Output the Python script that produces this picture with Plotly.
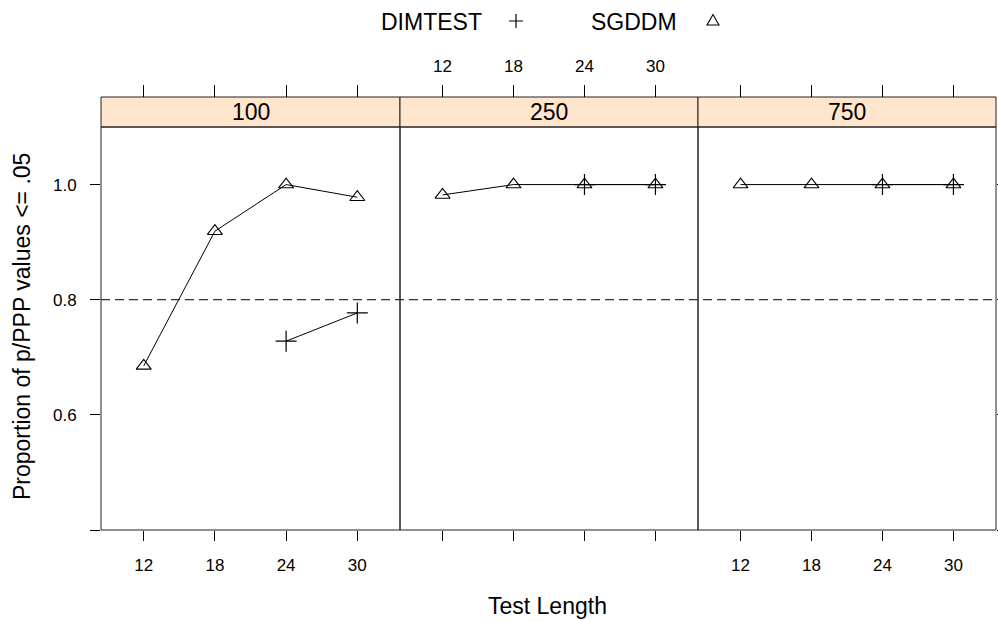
import plotly.graph_objects as go

test_lengths = [12, 18, 24, 30]
panels = ["100", "250", "750"]
sgddm = {
    "100": [0.685, 0.919, 1.0, 0.978],
    "250": [0.982, 1.0, 1.0, 1.0],
    "750": [1.0, 1.0, 1.0, 1.0],
}
dimtest = {
    "100": [None, None, 0.728, 0.777],
    "250": [None, None, 1.0, 1.0],
    "750": [None, None, 1.0, 1.0],
}
y_ticks = [0.4, 0.6, 0.8, 1.0]
y_ticktext = ["", "0.6", "0.8", "1.0"]
ref_line = 0.8

W, H = 998, 621
ML, MR, MT, MB = 101, 2, 97, 91
PW = W - ML - MR
PH = H - MT - MB
STRIP = 30
yd = (PH - STRIP) / PH
edges_px = [101, 400, 698, 996]
doms = [[(edges_px[i] - ML) / PW, (edges_px[i + 1] - ML) / PW] for i in range(3)]
doms[-1][1] = 1.0

FONT = "Liberation Sans, Arial, sans-serif"
xr = [8.4, 33.6]
yr = [0.4, 1.1]

fig = go.Figure()
for i, p in enumerate(panels):
    xa = "x" if i == 0 else f"x{i+1}"
    ya = "y" if i == 0 else f"y{i+1}"
    fig.add_trace(go.Scatter(
        x=test_lengths, y=dimtest[p], mode="lines+markers", xaxis=xa, yaxis=ya,
        line=dict(color="black", width=1), connectgaps=False,
        marker=dict(symbol="cross-thin-open", size=15, color="black",
                    line=dict(color="black", width=1.2)),
        showlegend=False, name="DIMTEST"))
    fig.add_trace(go.Scatter(
        x=test_lengths, y=sgddm[p], mode="lines+markers", xaxis=xa, yaxis=ya,
        line=dict(color="black", width=1),
        marker=dict(symbol="triangle-up-open", size=13, color="black",
                    line=dict(color="black", width=1.1)),
        showlegend=False, name="SGDDM"))

# dummy traces so overlay axes are drawn
for xa, ya in [("x4", "y"), ("x5", "y2"), ("x6", "y3"), ("x3", "y4")]:
    fig.add_trace(go.Scatter(x=[None], y=[None], xaxis=xa, yaxis=ya, showlegend=False, hoverinfo="skip"))

tickfont = dict(family=FONT, size=17, color="black")
common_x = dict(range=xr, tickvals=test_lengths, ticktext=[str(t) for t in test_lengths],
                ticks="outside", ticklen=10, tickcolor="black", tickwidth=1,
                showgrid=False, zeroline=False, showline=False, tickfont=tickfont,
                ticklabelstandoff=10, automargin=False)
layout = dict(
    width=W, height=H, margin=dict(l=ML, r=MR, t=MT, b=MB, autoexpand=False),
    paper_bgcolor="white", plot_bgcolor="white", showlegend=False,
)
layout["xaxis"] = dict(domain=doms[0], anchor="y", **common_x)
layout["xaxis2"] = dict(domain=doms[1], anchor="y2", showticklabels=False, **common_x)
layout["xaxis3"] = dict(domain=doms[2], anchor="y3", **common_x)
top_common = dict(common_x)
top_common["ticklen"] = 12
top_common["ticklabelstandoff"] = 6
layout["xaxis4"] = dict(overlaying="x", side="top", anchor="free", position=1,
                        showticklabels=False, **top_common)
layout["xaxis5"] = dict(overlaying="x2", side="top", anchor="free", position=1,
                        showticklabels=True, **top_common)
layout["xaxis6"] = dict(overlaying="x3", side="top", anchor="free", position=1,
                        showticklabels=False, **top_common)
common_y = dict(range=yr, domain=[0, yd], tickvals=y_ticks, ticktext=y_ticktext,
                ticks="outside", ticklen=10, tickcolor="black", tickwidth=1,
                showgrid=False, zeroline=False, showline=False, tickfont=tickfont,
                automargin=False)
layout["yaxis"] = dict(anchor="x", ticklabelstandoff=10, **common_y)
layout["yaxis2"] = dict(anchor="x2", showticklabels=False, **{**common_y, "ticks": ""})
layout["yaxis3"] = dict(anchor="x3", showticklabels=False, **{**common_y, "ticks": ""})
layout["yaxis4"] = dict(overlaying="y3", side="right", anchor="x3",
                        showticklabels=False, **{**common_y, "ticklen": 8})
fig.update_layout(**layout)

shapes = []
shapes.append(dict(type="line", xref="paper", yref="y", x0=0, x1=1, y0=ref_line, y1=ref_line,
                   line=dict(color="#333333", width=1.2, dash="9px,5px"), layer="above"))
for i, p in enumerate(panels):
    d0, d1 = doms[i]
    shapes.append(dict(type="rect", xref="paper", yref="paper", x0=d0, x1=d1, y0=0, y1=yd,
                       line=dict(color="#222222", width=1), fillcolor="rgba(0,0,0,0)", layer="above"))
    shapes.append(dict(type="rect", xref="paper", yref="paper", x0=d0, x1=d1, y0=yd, y1=1,
                       line=dict(color="#222222", width=1), fillcolor="#FFE5CC", layer="below"))


def px2paper(px, py):
    return (px - ML) / PW, (H - MB - py) / PH


lx_plus, ly = px2paper(516, 21)
lx_tri, _ = px2paper(713, 21)
shapes.append(dict(type="path", xref="paper", yref="paper", xsizemode="pixel", ysizemode="pixel",
                   xanchor=lx_plus, yanchor=ly, path="M -7 0 L 7 0 M 0 -7 L 0 7",
                   line=dict(color="black", width=1.2)))
shapes.append(dict(type="path", xref="paper", yref="paper", xsizemode="pixel", ysizemode="pixel",
                   xanchor=lx_tri, yanchor=ly, path="M -6 -4 L 6 -4 L 0 6.5 Z",
                   line=dict(color="black", width=1.1), fillcolor="rgba(0,0,0,0)"))
fig.update_layout(shapes=shapes)

BIG = dict(family=FONT, size=23, color="black")
ann = []
for i, p in enumerate(panels):
    d0, d1 = doms[i]
    ann.append(dict(text=p, xref="paper", yref="paper", x=(d0 + d1) / 2, y=(yd + 1) / 2,
                    showarrow=False, font=BIG, xanchor="center", yanchor="middle"))
tx, ty = px2paper(431, 22)
ann.append(dict(text="DIMTEST", xref="paper", yref="paper", x=tx, y=ty, showarrow=False,
                font=BIG, xanchor="center", yanchor="middle"))
tx, ty = px2paper(634, 22)
ann.append(dict(text="SGDDM", xref="paper", yref="paper", x=tx, y=ty, showarrow=False,
                font=BIG, xanchor="center", yanchor="middle"))
tx, ty = px2paper(547, 606)
ann.append(dict(text="Test Length", xref="paper", yref="paper", x=tx, y=ty, showarrow=False,
                font=BIG, xanchor="center", yanchor="middle"))
tx, ty = px2paper(22, 327)
ann.append(dict(text="Proportion of p/PPP values <= .05", xref="paper", yref="paper", x=tx, y=ty,
                showarrow=False, textangle=-90, font=BIG, xanchor="center", yanchor="middle"))
fig.update_layout(annotations=ann)

fig.write_html("out.html", config={"displayModeBar": False},
               post_script="document.body.style.margin='0px';")
